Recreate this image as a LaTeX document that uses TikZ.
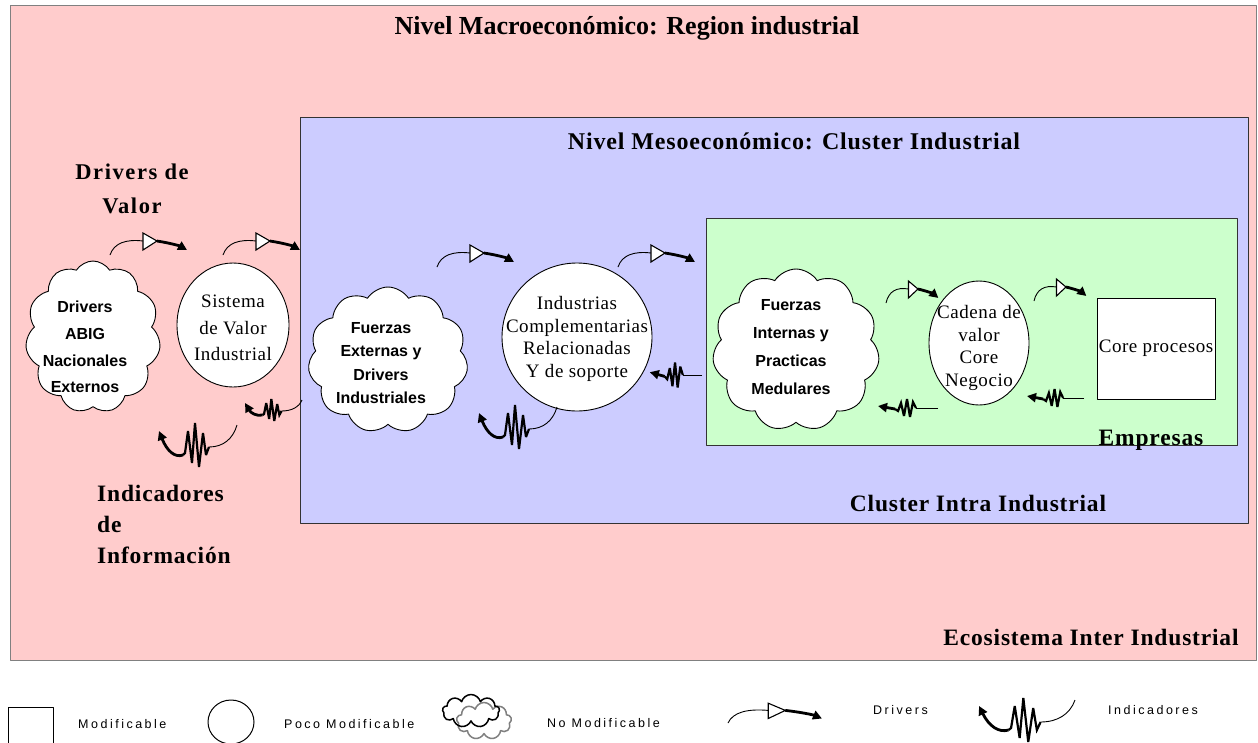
\documentclass[tikz,border=0pt]{standalone}
\usepackage{fontspec}
\setmainfont{Liberation Serif}
\newfontfamily\ttlfont{Liberation Serif}
\newfontfamily\hdfont[LetterSpace=3.5]{Liberation Serif}
\newfontfamily\drvfont[LetterSpace=7]{Liberation Serif}
\newfontfamily\circfont[LetterSpace=3]{Liberation Serif}
\newfontfamily\cloudfont{Liberation Sans}
\newfontfamily\legfont[LetterSpace=20]{Liberation Sans}
\usetikzlibrary{shapes.symbols,shapes.geometric,arrows.meta}
\definecolor{macro}{HTML}{FFCCCC}
\definecolor{meso}{HTML}{CCCCFF}
\definecolor{micro}{HTML}{CCFFCC}
\definecolor{edge}{HTML}{333333}

\begin{document}
\begin{tikzpicture}[x=1pt,y=-1pt,line join=round,
  thinline/.style={line width=0.9pt},
  zig/.style={line width=2.2pt,line join=miter,miter limit=4},
  tipped/.style={line width=2.8pt,-{Triangle[length=9pt,width=9pt]}},
  levelbox/.style={anchor=north west,inner sep=0,line width=1.3pt},
  heading/.style={inner sep=0,font=\hdfont\bfseries\fontsize{23.5}{26}\selectfont},
  cloudbox/.style={cloud,cloud ignores aspect,draw,fill=white,line width=0.9pt,inner sep=0,cloud puffs=11,cloud puff arc=115},
  circbox/.style={ellipse,draw,fill=white,line width=0.9pt,inner sep=0},
  cloudtext/.style={inner sep=0,align=center,font=\cloudfont\bfseries\fontsize{16}{#1}\selectfont},
  circtext/.style={inner sep=0,align=center,font=\circfont\fontsize{19}{#1}\selectfont},
  legtext/.style={inner sep=0,anchor=west,font=\legfont\fontsize{12.5}{14}\selectfont},
  % driver: thin lead-in, open triangle, heavy arrow
  drvsym/.pic={
    \draw[thinline] (0,0) .. controls (4,-12) and (16,-16) .. (33,-14);
    \draw[line width=1.1pt,fill=white,line join=miter] (33,-22) -- (47,-14) -- (33,-5) -- cycle;
    \draw[tipped] (47,-14) .. controls (60,-12) and (70,-9) .. (77,-5);
  },
  % indicator with a curved lead-in
  indsym/.pic={
    \draw[thinline] (0,0) .. controls (-4,14) and (-14,22) .. (-28,22);
    \draw[zig] (-28,22) -- (-31,30) -- (-34,8) -- (-38,42) -- (-42,-2) -- (-45,38) -- (-49,6) -- (-52,28) -- (-54,30);
    \draw[tipped] (-54,30) .. controls (-62,33) and (-70,26) .. (-78,6);
  },
  % indicator with a straight lead-in
  indflat/.pic={
    \draw[thinline] (0,0) -- (-22,0);
    \draw[zig] (-22,0) -- (-25,-6) -- (-28,9) -- (-31,-9) -- (-34,8) -- (-37,-5) -- (-40,3) -- (-43,1);
    \draw[tipped] (-43,1) -- (-60,-2);
  },
]
\useasboundingbox (0,0) rectangle (1258,742);
\fill[white] (0,0) rectangle (1258,742);

% nested levels
\node[levelbox,draw=gray,line width=1pt,fill=macro,minimum width=1246pt,minimum height=655pt] (macrobox) at (10,5) {};
\node[levelbox,draw=edge,fill=meso,minimum width=948pt,minimum height=406pt] (mesobox) at (300,117) {};
\node[levelbox,draw=edge,fill=micro,minimum width=531pt,minimum height=227pt] (microbox) at (706,218) {};

% level captions
\node[inner sep=0,font=\ttlfont\bfseries\fontsize{26}{30}\selectfont] (ttlmacro) at (627,28) {Nivel Macroeconómico: Region industrial};
\node[heading,font=\hdfont\bfseries\fontsize{24}{26}\selectfont] (ttlmeso) at (794,141) {Nivel Mesoeconómico: Cluster Industrial};
\node[heading] (ttlintra) at (978,503) {Cluster Intra Industrial};
\node[heading] (ttlemp) at (1151,440) {Empresas};
\node[heading] (ttleco) at (1091,637) {Ecosistema Inter Industrial};
\node[inner sep=0,align=center,font=\drvfont\bfseries\fontsize{22.5}{34}\selectfont] (ttldrv) at (132,189) {Drivers de\\Valor};
\node[inner sep=0,align=left,anchor=west,font=\hdfont\bfseries\fontsize{23.5}{31}\selectfont] (ttlind) at (97,524) {Indicadores\\de\\Información};

% elements
\node[cloudbox,minimum width=135pt,minimum height=152pt] (abig) at (93,337) {};
\node[cloudtext=26.7] (abigtxt) at (85,347) {Drivers\\ABIG\\Nacionales\\Externos};
\node[circbox,minimum width=112pt,minimum height=124pt] (sval) at (233,325) {};
\node[circtext=26.5] (svaltxt) at (233,328) {Sistema\\de Valor\\Industrial};
\node[cloudbox,minimum width=160pt,minimum height=146pt] (fext) at (388,360) {};
\node[cloudtext=23.3] (fexttxt) at (381,363) {Fuerzas\\Externas y\\Drivers\\Industriales};
\node[circbox,minimum width=150pt,minimum height=148pt] (icomp) at (577,337) {};
\node[circtext=22.6] (icomptxt) at (577,339) {Industrias\\Complementarias\\Relacionadas\\Y de soporte};
\node[cloudbox,minimum width=167pt,minimum height=162pt] (fint) at (796,350) {};
\node[cloudtext=28] (finttxt) at (791,347) {Fuerzas\\Internas y\\Practicas\\Medulares};
\node[circbox,minimum width=100pt,minimum height=124pt] (cval) at (979,343) {};
\node[circtext=22.5] (cvaltxt) at (979,348) {Cadena de\\valor\\Core\\Negocio};
\node[draw,fill=white,line width=0.9pt,inner sep=0,minimum width=118pt,minimum height=101pt,font=\circfont\fontsize{19}{22}\selectfont] (core) at (1156,348.5) {Core procesos};

% driver links (left to right)
\coordinate (d1) at (110,255);
\coordinate (d2) at (223,255);
\coordinate (d3) at (437,267);
\coordinate (d4) at (618,267);
\coordinate (d5) at (886,303);
\coordinate (d6) at (1034,301);
\pic at (d1) {drvsym};
\pic at (d2) {drvsym};
\pic at (d3) {drvsym};
\pic at (d4) {drvsym};
\pic[xscale=0.68] at (d5) {drvsym};
\pic[xscale=0.68] at (d6) {drvsym};

% indicator links (right to left)
\coordinate (i1) at (302,400);
\coordinate (i2) at (237,425);
\coordinate (i3) at (557,407);
\coordinate (i4) at (702,375);
\coordinate (i5) at (938,408);
\coordinate (i6) at (1084,398);
\pic[xscale=0.73,yscale=0.5] at (i1) {indsym};
\pic at (i2) {indsym};
\pic at (i3) {indsym};
\pic[xscale=0.87,yscale=1.4] at (i4) {indflat};
\pic at (i5) {indflat};
\pic[xscale=0.95] at (i6) {indflat};

% legend
\node[draw,line width=1pt,anchor=north west,inner sep=0,minimum width=45pt,minimum height=42pt] (lgrect) at (8,707) {};
\node[legtext] (lgrecttxt) at (78,724) {Modificable};
\node[ellipse,draw,line width=1pt,inner sep=0,minimum width=46pt,minimum height=44pt] (lgell) at (231,722) {};
\node[legtext] (lgelltxt) at (284,724) {Poco Modificable};
\node[cloud,cloud ignores aspect,draw=gray,line width=1.5pt,inner sep=0,cloud puffs=9,minimum width=55pt,minimum height=37pt] (lgcloudb) at (484,721) {};
\node[cloud,cloud ignores aspect,draw,line width=1.5pt,inner sep=0,cloud puffs=9,minimum width=57pt,minimum height=33pt] (lgclouda) at (471,711) {};
\node[legtext] (lgcloudtxt) at (547,723) {No Modificable};
\coordinate (ld) at (728,723);
\pic[xscale=1.22,yscale=0.9] at (ld) {drvsym};
\node[legtext] (lgdrvtxt) at (873,710) {Drivers};
\coordinate (li) at (1075,700);
\pic[xscale=1.23] at (li) {indsym};
\node[legtext] (lgindtxt) at (1108,710) {Indicadores};
\end{tikzpicture}
\end{document}
